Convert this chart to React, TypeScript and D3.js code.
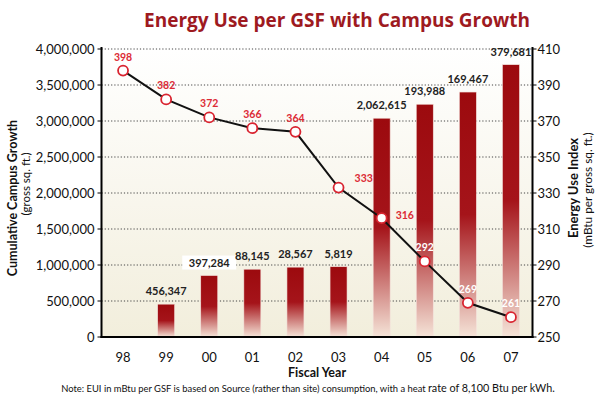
import React from "react";
import * as d3 from "d3";

// fiscal years, cumulative gross sq. ft., added sq. ft. labels, EUI
const years = ["98", "99", "00", "01", "02", "03", "04", "05", "06", "07"];
const campusGsf = [0, 456347, 853631, 941776, 970343, 976162, 3038777, 3232765, 3402232, 3781913];
const addedLabels = ["", "456,347", "397,284", "88,145", "28,567", "5,819", "2,062,615", "193,988", "169,467", "379,681"];
const eui = [398, 382, 372, 366, 364, 333, 316, 292, 269, 261];
const leftTicks = [0, 500000, 1000000, 1500000, 2000000, 2500000, 3000000, 3500000, 4000000];
const rightTicks = [250, 270, 290, 310, 330, 350, 370, 390, 410];

const W = 600;
const H = 397;
const left = 101.5;
const right = 532.5;
const top = 49;
const bottom = 337;
const font = "Lato, 'Open Sans', sans-serif";

export default function App() {
  const x = d3.scalePoint<string>().domain(years).range([left, right]).padding(0.5);
  const yL = d3.scaleLinear().domain([0, 4000000]).range([bottom, top]);
  const yR = d3.scaleLinear().domain([250, 410]).range([bottom, top]);
  const bw = 17;
  const fmt = d3.format(",");

  const line = d3.line<number>()
    .x((d, i) => x(years[i])!)
    .y(d => yR(d));

  // where each EUI label sits relative to its point
  const labelPos = (i: number) => {
    if (i === 5) return { dx: 16, dy: -6, anchor: "start" };
    if (i === 6) return { dx: 14, dy: 1, anchor: "start" };
    return { dx: 0, dy: -10, anchor: "middle" };
  };

  return (
    <svg width={W} height={H} style={{ position: "absolute", left: 0, top: 0, background: "#fff" }} fontFamily={font}>
      <defs>
        <linearGradient id="bg" x1="0" y1="0" x2="0" y2="1">
          <stop offset="0" stopColor="#ffffff" />
          <stop offset="1" stopColor="#f2eedc" />
        </linearGradient>
        <linearGradient id="bar" x1="0" y1="0" x2="0" y2="1">
          <stop offset="0" stopColor="#9c0a0e" />
          <stop offset="0.5" stopColor="#a5141a" />
          <stop offset="1" stopColor="#f5e4d8" />
        </linearGradient>
      </defs>

      <text x={337} y={27} textAnchor="middle" fontSize={19} fontWeight="bold" fill="#9e1a1f" fontFamily="'Open Sans', Lato, sans-serif">
        Energy Use per GSF with Campus Growth
      </text>

      <rect x={left} y={top} width={right - left} height={bottom - top} fill="url(#bg)" />

      {leftTicks.filter(t => t > 0).map(t => (
        <line key={t} x1={left} x2={right} y1={yL(t)} y2={yL(t)} stroke="#444" strokeWidth={1} strokeDasharray="1.2,2" />
      ))}

      {campusGsf.map((v, i) => v > 0 && (
        <rect key={years[i]} x={x(years[i])! - bw / 2} y={yL(v)} width={bw} height={bottom - yL(v)}
          fill="url(#bar)" stroke="#f4e2dc" strokeWidth={0.6} />
      ))}

      {addedLabels.map((s, i) => s && (
        <g key={"l" + i}>
          {i === 2 && <rect x={x(years[i])! - 27} y={yL(campusGsf[i]) - 20} width={54} height={14} fill="#fff" />}
          <text x={x(years[i])!} y={yL(campusGsf[i]) - 9} textAnchor="middle" fontSize={11} fontWeight="bold" fill="#222">
            {s}
          </text>
        </g>
      ))}

      <path d={line(eui)!} fill="none" stroke="#111" strokeWidth={2} />
      {eui.map((v, i) => (
        <circle key={"c" + i} cx={x(years[i])!} cy={yR(v)} r={5} fill="#fff" stroke="#d92430" strokeWidth={1.8} />
      ))}
      {eui.map((v, i) => {
        const p = labelPos(i);
        return (
          <text key={"e" + i} x={x(years[i])! + p.dx} y={yR(v) + p.dy} textAnchor={p.anchor} fontSize={10.5} fontWeight="bold"
            fill={i >= 7 ? "#fff" : "#dc2a35"}>
            {v}
          </text>
        );
      })}

      {/* axes */}
      <line x1={left} x2={left} y1={top - 2} y2={bottom + 1} stroke="#000" strokeWidth={2} />
      <line x1={right} x2={right} y1={top - 2} y2={bottom + 1} stroke="#000" strokeWidth={2} />
      <line x1={left - 1} x2={right + 1} y1={bottom} y2={bottom} stroke="#000" strokeWidth={2} />

      {leftTicks.map(t => (
        <g key={"lt" + t}>
          <line x1={left - 4} x2={left} y1={yL(t)} y2={yL(t)} stroke="#000" strokeWidth={1} />
          <text x={left - 7} y={yL(t)} dy="0.35em" textAnchor="end" fontSize={13} fill="#111">{fmt(t)}</text>
        </g>
      ))}
      {rightTicks.map(t => (
        <g key={"rt" + t}>
          <line x1={right} x2={right + 4} y1={yR(t)} y2={yR(t)} stroke="#000" strokeWidth={1} />
          <text x={right + 5} y={yR(t)} dy="0.35em" textAnchor="start" fontSize={13} fill="#111">{t}</text>
        </g>
      ))}
      {years.map(yr => (
        <text key={"x" + yr} x={x(yr)!} y={362} textAnchor="middle" fontSize={13} fill="#111">{yr}</text>
      ))}

      <text x={317} y={377} textAnchor="middle" fontSize={12.5} fontWeight="bold" fill="#111">Fiscal Year</text>

      <text transform="translate(17,198) rotate(-90)" textAnchor="middle" fontSize={12.5} fontWeight="bold" fill="#111">
        Cumulative Campus Growth
      </text>
      <text transform="translate(30,184) rotate(-90)" textAnchor="middle" fontSize={11.5} fill="#111">
        (gross sq. ft.)
      </text>
      <text transform="translate(578,188) rotate(-90)" textAnchor="middle" fontSize={13} fontWeight="bold" fill="#111">
        Energy Use Index
      </text>
      <text transform="translate(592,190) rotate(-90)" textAnchor="middle" fontSize={11.8} fill="#111">
        (mBtu per gross sq. ft.)
      </text>

      <text x={308} y={392} textAnchor="middle" fill="#111">
        <tspan fontSize={9.4}>Note: EUI in mBtu per GSF is based on Source (rather than site) consumption, with a heat </tspan>
        <tspan fontSize={10.8}>rate of 8,100 Btu per kWh.</tspan>
      </text>
    </svg>
  );
}
